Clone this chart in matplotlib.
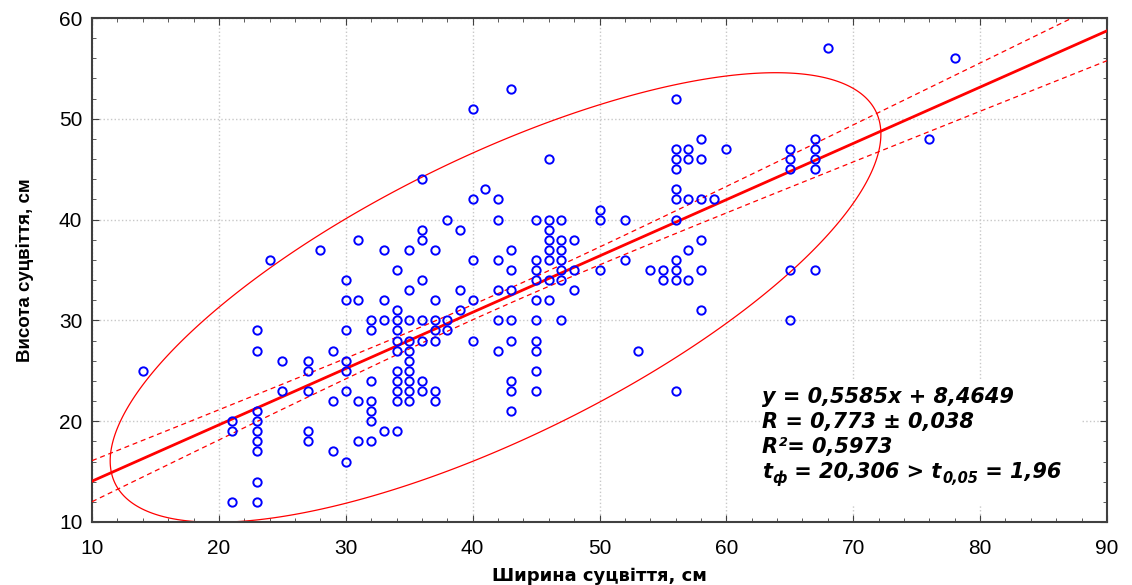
import numpy as np
import matplotlib
matplotlib.use("Agg")
import matplotlib.pyplot as plt
from matplotlib.patches import Polygon, Rectangle

plt.rcParams['font.family'] = ['Liberation Sans', 'DejaVu Sans']

# width of inflorescence (x) and height (y) for each visible observation, grouped by x value
width_vals = [14, 21, 23, 24, 25, 27, 28, 29, 30, 31, 32, 33, 34, 35, 36, 37, 38, 39, 40, 41, 42, 43,
              45, 46, 47, 48, 50, 52, 53, 54, 55, 56, 57, 58, 59, 60, 65, 67, 68, 76, 78]
height_groups = [
    [25],
    [20, 19, 12],
    [29, 27, 21, 20, 19, 18, 17, 14, 12],
    [36],
    [26, 23],
    [26, 25, 23, 19, 18],
    [37],
    [27, 22, 17],
    [34, 32, 29, 26, 25, 23, 16],
    [38, 32, 22, 18],
    [30, 29, 24, 22, 21, 20, 18],
    [37, 32, 30, 19],
    [35, 31, 30, 29, 28, 27, 25, 24, 23, 22, 19],
    [37, 33, 30, 28, 27, 26, 25, 24, 23, 22],
    [44, 39, 38, 34, 30, 28, 24, 23],
    [37, 32, 30, 29, 28, 23, 22],
    [40, 30, 29],
    [39, 33, 31],
    [51, 42, 36, 32, 28],
    [43],
    [42, 40, 36, 33, 30, 27],
    [53, 37, 35, 33, 30, 28, 24, 23, 21],
    [40, 36, 35, 34, 32, 30, 28, 27, 25, 23],
    [46, 40, 39, 38, 37, 36, 34, 32],
    [40, 38, 37, 36, 35, 34, 30],
    [38, 35, 33],
    [41, 40, 35],
    [40, 36],
    [27],
    [35],
    [35, 34],
    [52, 47, 46, 45, 43, 42, 40, 36, 35, 34, 23],
    [47, 46, 42, 37, 34],
    [48, 46, 42, 38, 35, 31],
    [42],
    [47],
    [47, 46, 45, 35, 30],
    [48, 47, 46, 45, 35],
    [57],
    [48],
    [56],
]

# regression results printed on the chart
slope = 0.5585
intercept = 8.4649
n_total = 280  # from t = r*sqrt(n-2)/sqrt(1-r^2); many points overlap

x = np.concatenate([[w] * len(h) for w, h in zip(width_vals, height_groups)]).astype(float)
y = np.concatenate(height_groups).astype(float)

fig = plt.figure(figsize=(11.32, 5.85), dpi=100)
ax = fig.add_axes([0.0813, 0.1077, 0.8966, 0.8615])

# regression line and 95% confidence band
xs = np.linspace(10, 90, 200)
fit = slope * xs + intercept
resid = y - (slope * x + intercept)
s = np.sqrt(np.sum(resid ** 2) / (len(x) - 2))
band = 1.96 * s * np.sqrt(1.0 / n_total + (xs - x.mean()) ** 2 / (n_total * x.var()))
ax.plot(xs, fit, color='red', lw=2.0, zorder=3)
ax.plot(xs, fit + band, color='red', lw=0.9, ls=(0, (4, 3)), zorder=3)
ax.plot(xs, fit - band, color='red', lw=0.9, ls=(0, (4, 3)), zorder=3)

# 95% ellipse of the data
cov = np.cov(x, y)
vals, vecs = np.linalg.eigh(cov)
t = np.linspace(0, 2 * np.pi, 400)
circ = np.vstack([np.cos(t), np.sin(t)]) * np.sqrt(5.991 * vals)[:, None]
pts = vecs @ circ
ax.add_patch(Polygon(np.column_stack([pts[0] + x.mean(), pts[1] + y.mean()]), closed=True,
                     fill=False, edgecolor='red', lw=0.9, zorder=2))

ax.plot(x, y, 'o', ms=6, mfc='none', mec='#0000ff', mew=1.4, zorder=4)

ax.set_xlim(10, 90)
ax.set_ylim(10, 60)
ax.set_xticks(range(10, 91, 10))
ax.set_yticks(range(10, 61, 10))
ax.set_xticks(range(10, 91, 2), minor=True)
ax.set_yticks(range(10, 61, 2), minor=True)
ax.tick_params(which='both', direction='in', top=True, right=True, color='#404040')
ax.tick_params(which='major', length=5, labelsize=15)
ax.tick_params(axis='x', which='major', pad=12)
ax.tick_params(axis='y', which='major', pad=7)
ax.tick_params(which='minor', length=3)
ax.grid(which='major', color='#c8c8c8', ls=':', lw=1.0, zorder=0)
for sp in ax.spines.values():
    sp.set_color('#404040')
    sp.set_linewidth(1.5)

ax.set_xlabel('Ширина суцвіття, см', fontsize=13, fontweight='bold', labelpad=7,
              family=['DejaVu Sans'])
ax.set_ylabel('Висота суцвіття, см', fontsize=13.5, fontweight='bold', labelpad=18)

# white area behind the statistics
ax.add_patch(Rectangle((0.658, 0.034), 0.317, 0.248, transform=ax.transAxes,
                       facecolor='white', edgecolor='none', zorder=1.8))

big = dict(fontsize=15, fontweight='bold', style='italic', family=['DejaVu Sans'], zorder=5)
small = dict(fontsize=10.5, fontweight='bold', style='italic', family=['DejaVu Sans'], zorder=5)
x0 = 0.660
for s_, yy in zip(['y = 0,5585x + 8,4649', 'R = 0,773 ± 0,038', 'R²= 0,5973'],
                  [0.248, 0.198, 0.149]):
    ax.text(x0, yy, s_, transform=ax.transAxes, va='center', ha='left', **big)

t1 = ax.text(x0, 0.099, 't', transform=ax.transAxes, va='center', ha='left', **big)
s1 = ax.annotate('ф', xy=(1, 0.2), xycoords=t1, xytext=(0.5, 0), textcoords='offset points',
                 va='center', ha='left', **small)
t2 = ax.annotate(' = 20,306 > t', xy=(1, 0.5), xycoords=(s1, t1), xytext=(0, 0),
                 textcoords='offset points', va='center', ha='left', **big)
s2 = ax.annotate('0,05', xy=(1, 0.2), xycoords=t2, xytext=(0.5, 0), textcoords='offset points',
                 va='center', ha='left', **small)
ax.annotate(' = 1,96', xy=(1, 0.5), xycoords=(s2, t1), xytext=(0, 0),
            textcoords='offset points', va='center', ha='left', **big)

fig.savefig('out.png', dpi=100, facecolor='white')
